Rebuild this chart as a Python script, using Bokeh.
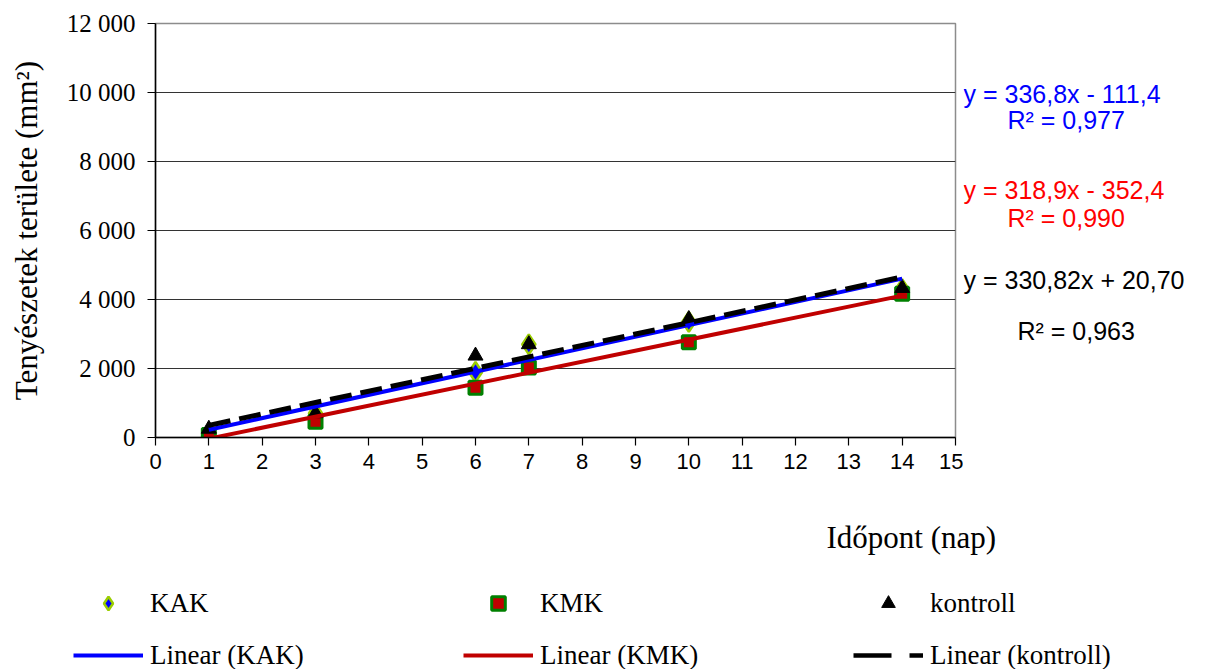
import numpy as np
from bokeh.plotting import figure
from bokeh.layouts import row, column
from bokeh.models import Range1d, Label, Legend, LegendItem, FixedTicker
from bokeh.embed import file_html
from bokeh.resources import INLINE

# ---------------- data ----------------
days = [1, 3, 6, 7, 10, 14]
kak = [120, 700, 1900, 2700, 3350, 4300]
kmk = [70, 460, 1440, 2030, 2760, 4170]
kontroll = [250, 700, 2370, 2700, 3430, 4330]

trend_slopes = [336.8, 318.9, 330.82]
trend_intercepts = [-111.4, -352.4, 20.70]
equations = ["y = 336,8x - 111,4", "y = 318,9x - 352,4", "y = 330,82x + 20,70"]
r2_texts = ["R² = 0,977", "R² = 0,990", "R² = 0,963"]

series_names = ["KAK", "KMK", "kontroll"]
trend_names = ["Linear (KAK)", "Linear (KMK)", "Linear (kontroll)"]

x_ticks = list(range(0, 16))
y_ticks = [0, 2000, 4000, 6000, 8000, 10000, 12000]
y_tick_labels = ["0", "2 000", "4 000", "6 000", "8 000", "10 000", "12 000"]

x_title = "Időpont (nap)"
y_title = "Tenyészetek területe (mm²)"

# ---------------- layout sizes ----------------
TOTAL_W = 1208
FL, FT, FW, FH = 155, 23, 800, 414
MAIN_W = FL + FW + 8
MAIN_H = 488
EQ_W = TOTAL_W - MAIN_W
BOT_H = 181

# ---------------- main chart ----------------
p = figure(width=MAIN_W, height=MAIN_H, x_range=Range1d(0, 15), y_range=Range1d(0, 12000),
           output_backend="svg", toolbar_location=None,
           min_border_left=FL, min_border_right=MAIN_W - FL - FW,
           min_border_top=FT, min_border_bottom=MAIN_H - FT - FH)
p.background_fill_color = "white"
p.border_fill_color = "white"
p.outline_line_color = "#8c8c8c"
p.outline_line_width = 1.5

p.xaxis.ticker = FixedTicker(ticks=x_ticks)
p.yaxis.ticker = FixedTicker(ticks=y_ticks)
p.yaxis.major_label_overrides = {t: l for t, l in zip(y_ticks, y_tick_labels)}
for ax in (p.xaxis, p.yaxis):
    ax.axis_line_color = "black"
    ax.axis_line_width = 1.5
    ax.major_tick_line_color = "black"
    ax.major_tick_line_width = 1.2
    ax.major_tick_out = 8
    ax.major_tick_in = 0
    ax.minor_tick_line_color = None
    ax.major_label_text_color = "black"
p.xaxis.major_label_text_font = "Liberation Sans"
p.xaxis.major_label_text_font_size = "22px"
p.xaxis.major_label_standoff = 8
p.yaxis.major_label_text_font = "Liberation Serif"
p.yaxis.major_label_text_font_size = "25px"
p.yaxis.major_label_standoff = 12
p.yaxis.axis_label = y_title
p.yaxis.axis_label_text_font = "Liberation Serif"
p.yaxis.axis_label_text_font_size = "31px"
p.yaxis.axis_label_text_font_style = "normal"
p.yaxis.axis_label_text_color = "black"
p.yaxis.axis_label_standoff = 20

p.xgrid.visible = False
p.ygrid.grid_line_color = "#333333"
p.ygrid.grid_line_width = 1

kak_style = dict(marker="diamond", size=20, fill_color="#0000ff",
                 line_color="#9acd00", line_width=2.5)
kmk_style = dict(marker="square", size=13, fill_color="#c00000",
                 line_color="#008000", line_width=3)
kon_style = dict(marker="triangle", size=15, fill_color="black", line_color="black")

p.scatter(days, kak, **kak_style)
p.scatter(days, kmk, **kmk_style)
p.scatter(days, kontroll, **kon_style)

line_styles = [dict(line_color="#0000ff", line_width=4),
               dict(line_color="#c00000", line_width=4),
               dict(line_color="black", line_width=5, line_dash="22 9")]
xs_tr = [days[0], days[-1]]
for sl, ic, st in zip(trend_slopes, trend_intercepts, line_styles):
    p.line(xs_tr, [sl * x + ic for x in xs_tr], **st)

# ---------------- equations panel ----------------
q = figure(width=EQ_W, height=MAIN_H, x_range=Range1d(0, EQ_W), y_range=Range1d(0, MAIN_H),
           output_backend="svg", toolbar_location=None,
           x_axis_location=None, y_axis_location=None,
           min_border=0, outline_line_color=None)
q.grid.visible = False
eq_colors = ["#0000ff", "#ff0000", "black"]
eq_pos = [(0, 83), (0, 196), (0, 302)]
r2_pos = [(44, 114), (44, 229), (54, 362)]
for txt, r2, c, (ex, ey), (rx, ry) in zip(equations, r2_texts, eq_colors, eq_pos, r2_pos):
    q.add_layout(Label(x=ex, y=MAIN_H - ey, text=txt, text_align="left", text_baseline="middle",
                       text_font="Liberation Sans", text_font_size="25px", text_color=c))
    q.add_layout(Label(x=rx, y=MAIN_H - ry, text=r2, text_align="left", text_baseline="middle",
                       text_font="Liberation Sans", text_font_size="25px", text_color=c))

# ---------------- bottom panel: x title + legend ----------------
b = figure(width=TOTAL_W, height=BOT_H, x_range=Range1d(0, TOTAL_W), y_range=Range1d(0, BOT_H),
           output_backend="svg", toolbar_location=None,
           x_axis_location=None, y_axis_location=None,
           min_border=0, outline_line_color=None)
b.grid.visible = False
b.add_layout(Label(x=826, y=BOT_H - 49, text=x_title, text_align="left", text_baseline="middle",
                   text_font="Liberation Serif", text_font_size="31px", text_color="black"))

# legend proxies (NaN data: nothing drawn in the panel, only the legend glyphs)
nan1 = [float("nan")]
nan2 = [float("nan"), float("nan")]
leg_r = [
    b.scatter(nan1, nan1, **kak_style),
    b.scatter(nan1, nan1, **kmk_style),
    b.scatter(nan1, nan1, **kon_style),
    b.line(nan2, nan2, line_color="#0000ff", line_width=4),
    b.line(nan2, nan2, line_color="#c00000", line_width=4),
    b.line(nan2, nan2, line_color="black", line_width=4.5, line_dash="38 18"),
]
labels = series_names + trend_names
legend = Legend(items=[LegendItem(label=l, renderers=[r]) for l, r in zip(labels, leg_r)],
                orientation="horizontal", ncols=3,
                location=(73, -3),
                glyph_width=70, glyph_height=34, label_height=34, label_width=295,
                label_standoff=7, spacing=18, padding=0, margin=0,
                border_line_alpha=0, background_fill_alpha=0,
                label_text_font="Liberation Serif", label_text_font_size="27px",
                label_text_color="black")
b.add_layout(legend)

layout = column(row(p, q), b)
open("out.html", "w").write(file_html(layout, INLINE))
